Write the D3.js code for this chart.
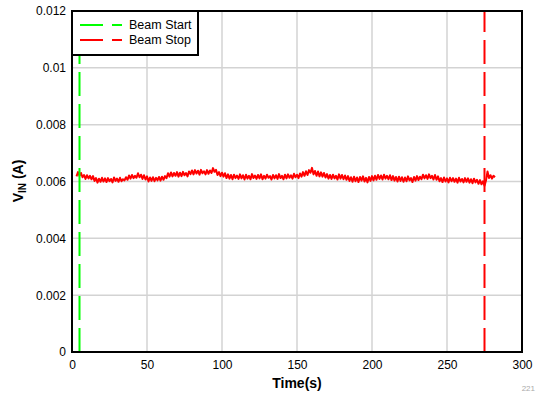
<!DOCTYPE html>
<html><head><meta charset="utf-8">
<script src="https://cdn.jsdelivr.net/npm/d3@7"></script>
<style>body{margin:0;background:#fff}svg{display:block;font-family:"Liberation Sans",Arial,sans-serif}</style>
</head><body>
<svg id="c" width="536" height="395"></svg>
<script>
// Data (current in µA, sampled every 1 s starting at t = 3 s)
const startTime = 3;
const stepTime = 1;
const currentUA = [
6180,6330,6200,6300,6150,6230,6090,6220,6110,6200,
6080,6190,6020,6120,5960,6100,5990,6130,6000,6110,
5980,6120,6010,6090,5970,6140,6020,6100,5990,6130,
6010,6080,6040,6150,6060,6210,6100,6230,6120,6200,
6130,6290,6150,6240,6090,6220,6070,6180,6000,6140,
6020,6150,6010,6130,6040,6160,6030,6170,6060,6190,
6120,6290,6170,6320,6180,6300,6200,6330,6170,6310,
6190,6340,6220,6300,6180,6350,6260,6390,6250,6400,
6280,6380,6240,6410,6290,6360,6250,6400,6270,6390,
6300,6470,6340,6410,6230,6330,6190,6310,6170,6290,
6120,6250,6100,6230,6080,6240,6120,6210,6090,6250,
6110,6220,6070,6240,6100,6200,6080,6260,6120,6210,
6090,6230,6110,6250,6080,6200,6100,6240,6130,6190,
6070,6230,6110,6220,6090,6260,6120,6200,6080,6240,
6110,6250,6130,6220,6100,6270,6150,6240,6120,6280,
6170,6330,6200,6360,6230,6400,6310,6480,6250,6370,
6200,6350,6180,6320,6170,6300,6140,6260,6100,6230,
6090,6240,6110,6200,6070,6250,6100,6230,6080,6210,
6060,6190,6020,6150,5990,6170,6010,6140,5980,6160,
6030,6180,6000,6130,5970,6160,6020,6190,6040,6200,
6060,6230,6090,6210,6070,6240,6100,6200,6080,6220,
6050,6190,6030,6160,6000,6170,6020,6150,5990,6140,
6010,6180,6040,6120,5980,6160,6030,6190,6050,6170,
6080,6240,6110,6220,6090,6250,6120,6200,6070,6230,
6060,6180,6010,6120,5980,6140,6000,6110,5970,6130,
6010,6120,5990,6100,5960,6130,6000,6090,5970,6120,
5990,6110,5960,6080,5940,6100,5970,6060,5920,6050,
5900,6010,5850,6040,6350,6120,6220,6100,6200,6150
];
const beamEvents = [
  {name: "Beam Start", time: 5, color: "#00ff00"},
  {name: "Beam Stop", time: 275, color: "#ff0000"}
];
const xTicks = [0, 50, 100, 150, 200, 250, 300];
const yTicks = [0, 0.002, 0.004, 0.006, 0.008, 0.01, 0.012];
const yTickLabels = ["0", "0.002", "0.004", "0.006", "0.008", "0.01", "0.012"];
const xTitle = "Time(s)";
const figureId = "221";

const svg = d3.select("#c");
const L = 72, R = 522, T = 11, B = 352;
const x = d3.scaleLinear().domain([0, 300]).range([L, R]);
const y = d3.scaleLinear().domain([0, 0.012]).range([B, T]);

// grid
svg.append("g").selectAll("line").data(xTicks.slice(1, -1)).join("line")
  .attr("x1", d => x(d)).attr("x2", d => x(d)).attr("y1", T).attr("y2", B)
  .attr("stroke", "#d3d3d3").attr("stroke-width", 1.5);
svg.append("g").selectAll("line").data(yTicks.slice(1, -1)).join("line")
  .attr("y1", d => y(d)).attr("y2", d => y(d)).attr("x1", L).attr("x2", R)
  .attr("stroke", "#d3d3d3").attr("stroke-width", 1.5);

// axes labels via d3 axes (no tick lines)
const xAxis = svg.append("g").attr("transform", `translate(0,${B})`)
  .call(d3.axisBottom(x).tickValues(xTicks).tickSize(0).tickPadding(8).tickFormat(d => String(d)));
const yAxis = svg.append("g").attr("transform", `translate(${L},0)`)
  .call(d3.axisLeft(y).tickValues(yTicks).tickSize(0).tickPadding(6).tickFormat((d, i) => yTickLabels[i]));
[xAxis, yAxis].forEach(g => {
  g.select(".domain").remove();
  g.selectAll("text").attr("font-size", 12).attr("fill", "#000")
    .attr("font-family", '"Liberation Sans", Arial, sans-serif');
});

// data line
const line = d3.line().x((d, i) => x(startTime + i * stepTime)).y(d => y(d / 1e6));
svg.append("path").datum(currentUA).attr("d", line)
  .attr("fill", "none").attr("stroke", "#ff0000").attr("stroke-width", 2).attr("stroke-linejoin", "round");

// beam event lines
svg.append("g").selectAll("line").data(beamEvents).join("line")
  .attr("x1", d => x(d.time)).attr("x2", d => x(d.time))
  .attr("y1", y(0)).attr("y2", y(0.012))
  .attr("stroke", d => d.color).attr("stroke-width", 2).attr("stroke-dasharray", "24,8");

// frame
svg.append("rect").attr("x", L).attr("y", T).attr("width", R - L).attr("height", B - T)
  .attr("fill", "none").attr("stroke", "#000").attr("stroke-width", 2);

// legend
const lg = svg.append("g");
lg.append("rect").attr("x", L).attr("y", T).attr("width", 126).attr("height", 44)
  .attr("fill", "#fff").attr("stroke", "#000").attr("stroke-width", 2);
const items = lg.selectAll("g.it").data(beamEvents).join("g").attr("class", "it")
  .attr("transform", (d, i) => `translate(0,${25 + i * 15})`);
items.append("line").attr("x1", 80).attr("x2", 122).attr("y1", 0).attr("y2", 0)
  .attr("stroke", d => d.color).attr("stroke-width", 2).attr("stroke-dasharray", "23,9");
items.append("text").attr("x", 129).attr("y", 0).attr("dy", "0.35em")
  .attr("font-size", 12.5).text(d => d.name);

// titles
svg.append("text").attr("x", (L + R) / 2).attr("y", 388).attr("text-anchor", "middle")
  .attr("font-size", 14).attr("font-weight", "bold").text(xTitle);
const yt = svg.append("text").attr("transform", `translate(23,181) rotate(-90)`)
  .attr("text-anchor", "middle").attr("font-size", 14).attr("font-weight", "bold");
yt.append("tspan").text("V");
yt.append("tspan").attr("font-size", 10).attr("dy", 3).text("IN");
yt.append("tspan").attr("dy", -3).text(" (A)");

svg.append("text").attr("x", 535).attr("y", 391).attr("text-anchor", "end")
  .attr("font-size", 8).attr("fill", "#aaa").text(figureId);
</script>
</body></html>
